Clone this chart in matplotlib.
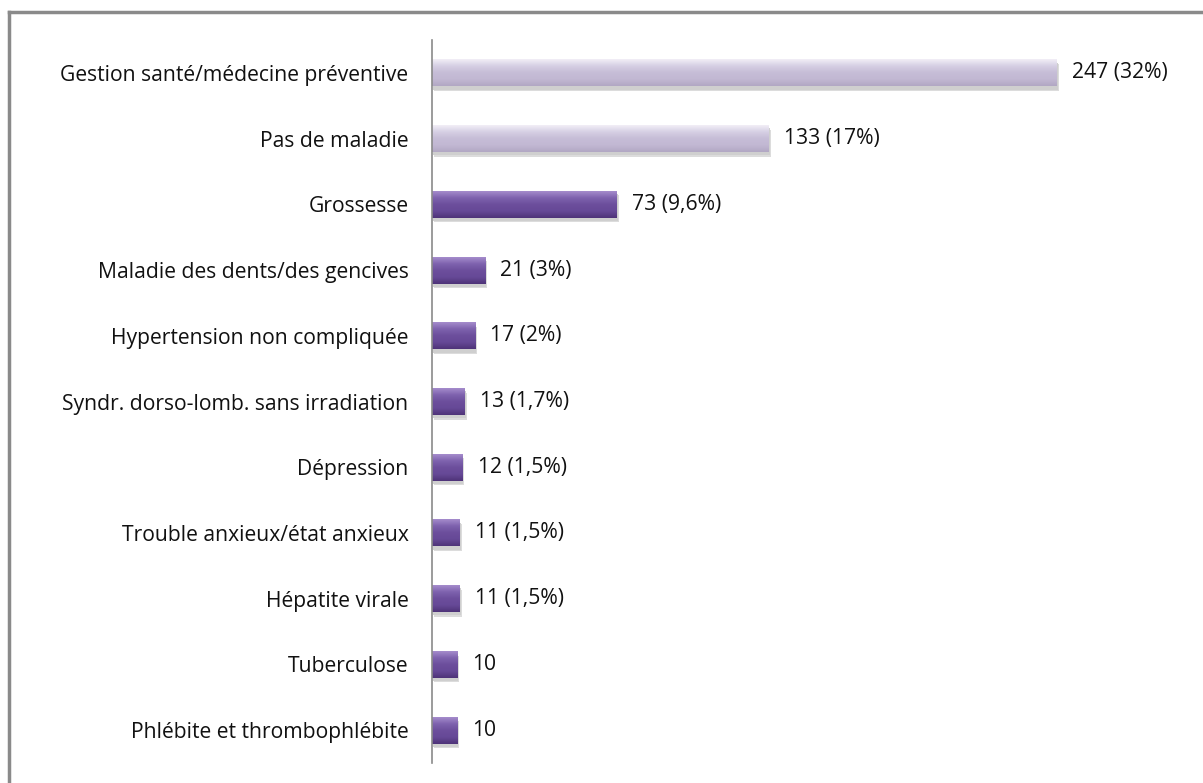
import numpy as np
import matplotlib
matplotlib.use("Agg")
from matplotlib import pyplot as plt
from matplotlib.lines import Line2D
from matplotlib.colors import to_rgb

# data, top to bottom
categories = ["Gestion santé/médecine préventive", "Pas de maladie", "Grossesse",
              "Maladie des dents/des gencives", "Hypertension non compliquée",
              "Syndr. dorso-lomb. sans irradiation", "Dépression",
              "Trouble anxieux/état anxieux", "Hépatite virale", "Tuberculose",
              "Phlébite et thrombophlébite"]
counts = [247, 133, 73, 21, 17, 13, 12, 11, 11, 10, 10]
value_labels = ["247 (32%)", "133 (17%)", "73 (9,6%)", "21 (3%)", "17 (2%)",
                "13 (1,7%)", "12 (1,5%)", "11 (1,5%)", "11 (1,5%)", "10", "10"]
highlight = [True, True, False, False, False, False, False, False, False, False, False]

plt.rcParams['font.family'] = ['Open Sans', 'DejaVu Sans']

W, H = 1203, 783
fig = plt.figure(figsize=(W / 100, H / 100), dpi=100)

# outer frame (only top and left visible in the original crop)
fig.add_artist(Line2D([9 / W, 9 / W], [0, 1 - 12 / H], transform=fig.transFigure,
                      color="#8a8a8a", lw=2.5))
fig.add_artist(Line2D([9 / W, 1], [1 - 12 / H, 1 - 12 / H], transform=fig.transFigure,
                      color="#8a8a8a", lw=2.5))

ax = fig.add_axes([432 / W, 1 - 763 / H, 759 / W, 723 / H])

n = len(categories)
y = np.arange(n)

# gradient stops, top -> bottom of each bar
light_stops = ["#f1eef6", "#d6cfe4", "#c6bdd7", "#c2b8d3", "#b2a8c4"]
dark_stops = ["#a48bcb", "#7e62ae", "#6c4e9c", "#664997", "#4f3479"]


def gradient(stops, rows=40):
    pos = np.linspace(0, 1, len(stops))
    cols = np.array([to_rgb(c) for c in stops])
    t = np.linspace(0, 1, rows)
    g = np.stack([np.interp(t, pos, cols[:, k]) for k in range(3)], axis=1)
    return g[:, None, :]


bh = 0.41
# soft shadow under each bar
ax.barh(y + 0.07, counts, height=bh, color="#dcdcdc", left=0.8, zorder=1)
ax.barh(y + 0.05, counts, height=bh, color="#cfcfcf", left=0.4, zorder=1)
for yi, c, h in zip(y, counts, highlight):
    img = gradient(light_stops if h else dark_stops)
    ax.imshow(img, extent=[0, c, yi + bh / 2, yi - bh / 2], aspect="auto",
              interpolation="bilinear", zorder=2)

for yi, c, lab in zip(y, counts, value_labels):
    ax.text(c + 6, yi, lab, va="center", ha="left", fontsize=15.2, color="#111111")

ax.set_xlim(0, 300)
ax.set_ylim(n - 0.5, -0.5)
ax.set_yticks(y)
ax.set_yticklabels(categories, fontsize=15.2, color="#111111")
ax.tick_params(axis="y", length=0, pad=17)
ax.set_xticks([])
for s in ["top", "right", "bottom"]:
    ax.spines[s].set_visible(False)
ax.spines["left"].set_color("#8a8a8a")
ax.spines["left"].set_linewidth(1.2)
ax.spines["left"].set_zorder(5)
ax.patch.set_alpha(0)

fig.savefig("out.png", dpi=100, facecolor="white")
